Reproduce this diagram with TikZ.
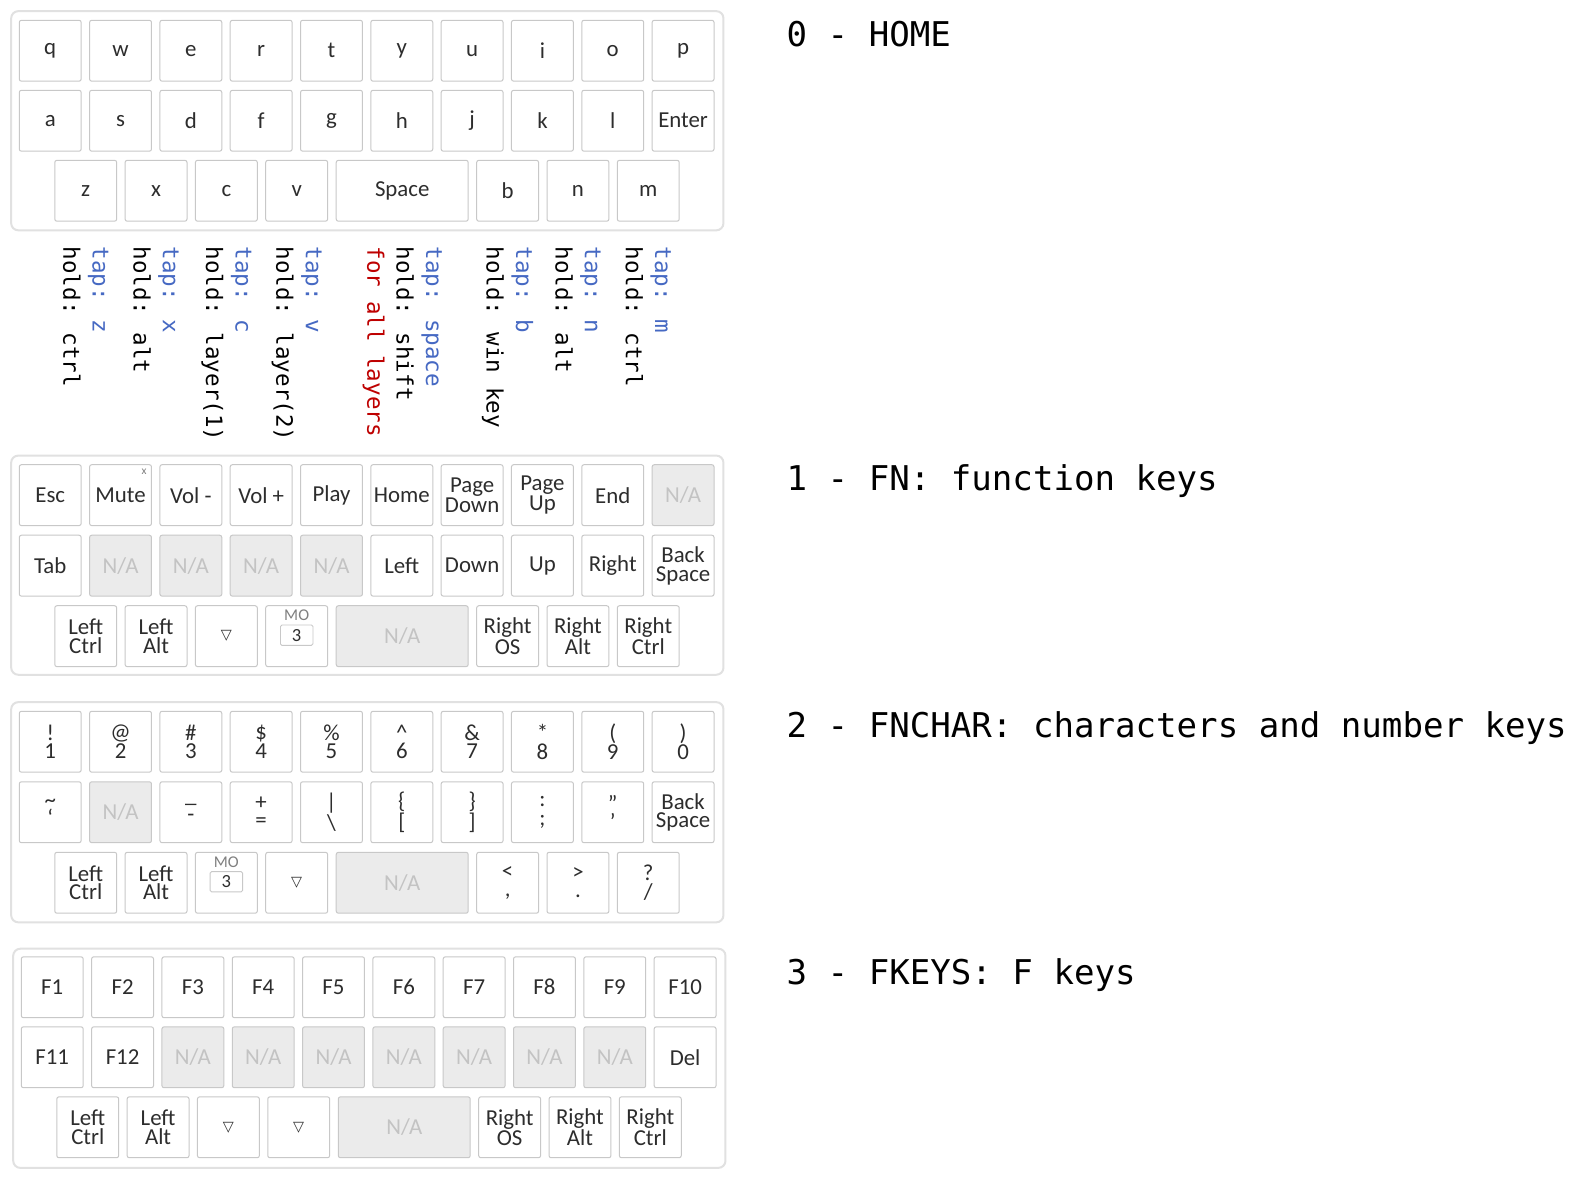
\documentclass[tikz,border=0pt]{standalone}
\usepackage{fontspec}
\setmainfont{Carlito}
\newfontfamily\monofont{DejaVu Sans Mono}
\newfontfamily\symfont{DejaVu Sans}
\usetikzlibrary{positioning}

\definecolor{keyline}{RGB}{200,200,200}
\definecolor{boardline}{RGB}{225,225,225}
\definecolor{nafill}{RGB}{235,235,235}
\definecolor{natext}{RGB}{195,195,195}
\definecolor{keytext}{RGB}{45,45,45}
\definecolor{tapblue}{RGB}{70,105,195}
\definecolor{allred}{RGB}{190,0,0}

\newcommand{\notav}{N/A}
\newcommand{\tri}{{\symfont\fontsize{10}{10}\selectfont ▽}}
\newcommand{\tap}[1]{\textcolor{tapblue}{tap: #1}}

\begin{document}
\begin{tikzpicture}[
    x=0.025cm, y=-0.025cm,
    board/.style={draw=boardline, line width=1.4pt, rounded corners=5pt, fill=white},
    key/.style={draw=keyline, line width=0.7pt, rounded corners=1.5pt, fill=white, minimum width=1.525cm, minimum height=1.5cm, inner sep=0pt, align=center, text=keytext, font=\fontsize{16}{13}\selectfont},
    nakey/.style={key, fill=nafill, text=natext},
    nawide/.style={nakey, minimum width=3.25cm},
    wide/.style={key, minimum width=3.25cm},
    motop/.style={inner sep=0pt, text=gray, font=\fontsize{11.5}{11.5}\selectfont},
    mobox/.style={draw=keyline, line width=0.6pt, rounded corners=1pt, minimum width=0.8cm, minimum height=0.5cm, inner sep=0pt, text=keytext, font=\fontsize{13}{13}\selectfont},
    note/.style={rotate=-90, anchor=west, align=left, inner sep=0pt, font=\monofont\fontsize{15.8}{20.6}\selectfont},
    title/.style={anchor=base west, inner sep=0pt, font=\monofont\fontsize{23.9}{28}\selectfont}
]
\path[use as bounding box, fill=white] (0,0) rectangle (1568,1161);

% layer 0
\draw[board] (11,11) rectangle (713,227);
\foreach \lbl [count=\i from 0] in {q,w,e,r,t,y,u,i,o,p}
  \node[key] (k0-1-\i) at ({49.5+69.3*\i},50) {\lbl};
\foreach \lbl [count=\i from 0] in {a,s,d,f,g,h,j,k,l,Enter}
  \node[key] (k0-2-\i) at ({49.5+69.3*\i},119) {\lbl};
\foreach \lbl [count=\i from 0] in {z,x,c,v}
  \node[key] (k0-3-\i) at ({84.5+69.3*\i},188) {\lbl};
\node[wide] (k0-3-4) at (396.4,188) {Space};
\foreach \lbl [count=\i from 6] in {b,n,m}
  \node[key] (k0-3-\i) at ({84.5+69.3*\i},188) {\lbl};

\coordinate (notetop) at (0,243);
\node[note] (n-z) at (k0-3-0.south |- notetop) {\tap{z}\\hold: ctrl};
\node[note] (n-x) at (k0-3-1.south |- notetop) {\tap{x}\\hold: alt};
\node[note] (n-c) at (k0-3-2.south |- notetop) {\tap{c}\\hold: layer(1)};
\node[note] (n-v) at (k0-3-3.south |- notetop) {\tap{v}\\hold: layer(2)};
\node[note] (n-space) at (k0-3-4.south |- notetop) {\tap{space}\\hold: shift\\\textcolor{allred}{for all layers}};
\node[note] (n-b) at (k0-3-6.south |- notetop) {\tap{b}\\hold: win key};
\node[note] (n-n) at (k0-3-7.south |- notetop) {\tap{n}\\hold: alt};
\node[note] (n-m) at (k0-3-8.south |- notetop) {\tap{m}\\hold: ctrl};

\node[title] (t0) at (775,46) {0 - HOME};

% layer 1
\draw[board] (11,449) rectangle (713,665);
\foreach \lbl/\sty [count=\i from 0] in {Esc/key, Mute/key, Vol -/key, Vol +/key, Play/key, Home/key, Page\\Down/key, Page\\Up/key, End/key, \notav/nakey}
  \node[\sty] (k1-1-\i) at ({49.5+69.3*\i},488) {\lbl};
\node[inner sep=0pt, text=gray, font=\fontsize{8}{8}\selectfont] (k1-mute-x) at ([xshift=-5.5pt, yshift=-5pt]k1-1-1.north east) {x};
\foreach \lbl/\sty [count=\i from 0] in {Tab/key, \notav/nakey, \notav/nakey, \notav/nakey, \notav/nakey, Left/key, Down/key, Up/key, Right/key, Back\\Space/key}
  \node[\sty] (k1-2-\i) at ({49.5+69.3*\i},557.5) {\lbl};
\node[key] (k1-3-0) at (84.5,627) {Left\\Ctrl};
\node[key] (k1-3-1) at (153.8,627) {Left\\Alt};
\node[key] (k1-3-2) at (223.1,627) {\tri};
\node[key] (k1-3-3) at (292.4,627) {};
\node[motop] (k1-mo) at ([yshift=-7pt]k1-3-3.north) {MO};
\node[mobox] (k1-mo3) at ([yshift=0.7pt]k1-3-3.center) {3};
\node[nawide] (k1-3-4) at (396.4,627) {\notav};
\node[key] (k1-3-6) at (500.3,627) {Right\\OS};
\node[key] (k1-3-7) at (569.6,627) {Right\\Alt};
\node[key] (k1-3-8) at (638.9,627) {Right\\Ctrl};

\node[title] (t1) at (775,483) {1 - FN: function keys};

% layer 2
\draw[board] (11,692) rectangle (713,909);
\foreach \lbl [count=\i from 0] in {!\\1, @\\2, \#\\3, \$\\4, \%\\5, \char"5E\\6, \&\\7, *\\8, {(\\9}, {)\\0}}
  \node[key] (k2-1-\i) at ({49.5+69.3*\i},731) {\lbl};
\foreach \lbl/\sty [count=\i from 0] in {\char"7E\\\char"60/key, \notav/nakey, \_\\-/key, +\\=/key, \char"7C\\\char"5C/key, \{\\{[}/key, \}\\{]}/key, :\\;/key, \char"22\\\char"27/key, Back\\Space/key}
  \node[\sty] (k2-2-\i) at ({49.5+69.3*\i},800.5) {\lbl};
\node[key] (k2-3-0) at (84.5,870) {Left\\Ctrl};
\node[key] (k2-3-1) at (153.8,870) {Left\\Alt};
\node[key] (k2-3-2) at (223.1,870) {};
\node[motop] (k2-mo) at ([yshift=-7pt]k2-3-2.north) {MO};
\node[mobox] (k2-mo3) at ([yshift=0.7pt]k2-3-2.center) {3};
\node[key] (k2-3-3) at (292.4,870) {\tri};
\node[nawide] (k2-3-4) at (396.4,870) {\notav};
\node[key] (k2-3-6) at (500.3,870) {<\\,};
\node[key] (k2-3-7) at (569.6,870) {>\\.};
\node[key] (k2-3-8) at (638.9,870) {?\\/};

\node[title] (t2) at (775,727) {2 - FNCHAR: characters and number keys};

% layer 3
\draw[board] (13,935) rectangle (715,1151);
\foreach \lbl [count=\i from 0] in {F1,F2,F3,F4,F5,F6,F7,F8,F9,F10}
  \node[key] (k3-1-\i) at ({51.5+69.3*\i},973) {\lbl};
\foreach \lbl/\sty [count=\i from 0] in {F11/key, F12/key, \notav/nakey, \notav/nakey, \notav/nakey, \notav/nakey, \notav/nakey, \notav/nakey, \notav/nakey, Del/key}
  \node[\sty] (k3-2-\i) at ({51.5+69.3*\i},1042) {\lbl};
\node[key] (k3-3-0) at (86.5,1111) {Left\\Ctrl};
\node[key] (k3-3-1) at (155.8,1111) {Left\\Alt};
\node[key] (k3-3-2) at (225.1,1111) {\tri};
\node[key] (k3-3-3) at (294.4,1111) {\tri};
\node[nawide] (k3-3-4) at (398.4,1111) {\notav};
\node[key] (k3-3-6) at (502.3,1111) {Right\\OS};
\node[key] (k3-3-7) at (571.6,1111) {Right\\Alt};
\node[key] (k3-3-8) at (640.9,1111) {Right\\Ctrl};

\node[title] (t3) at (775,970) {3 - FKEYS: F keys};

\end{tikzpicture}
\end{document}
